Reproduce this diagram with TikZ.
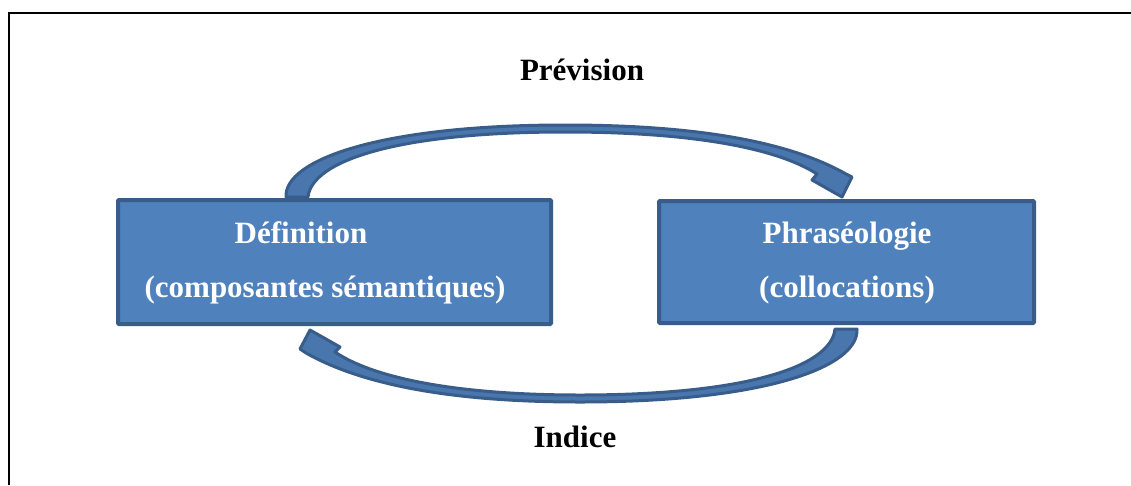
\documentclass[tikz,border=0pt]{standalone}
\usepackage{fontspec}
\setmainfont{Liberation Serif}
\definecolor{boxfill}{HTML}{4F81BD}
\definecolor{boxline}{HTML}{385D8A}
\definecolor{arrowfill}{HTML}{4A76AE}
\begin{document}
\begin{tikzpicture}[x=1pt,y=-1pt,
  box/.style={draw=boxline, fill=boxfill, line width=4pt, rounded corners=1pt, inner sep=0pt},
  boxtext/.style={text=white, font=\bfseries\fontsize{31}{37}\selectfont, anchor=base, inner sep=0pt},
  label/.style={text=black, font=\bfseries\fontsize{31}{37}\selectfont, anchor=base, inner sep=0pt},
  blockarrow/.style={draw=boxline, fill=arrowfill, line width=3pt, line join=round},
  frame/.style={draw=black, line width=2pt}]
\useasboundingbox (0,0) rectangle (1131,485);
\draw[frame] (9,485) -- (9,13) -- (1131,13);

% boxes
\node[box, minimum width=433pt, minimum height=124pt] (def) at (334.5,262) {};
\node[box, minimum width=375pt, minimum height=122pt] (phr) at (846.5,262) {};

% box texts
\node[boxtext] (t1) at (301,243) {Définition};
\node[boxtext] (t2) at (325,297) {(composantes sémantiques)};
\node[boxtext] (t3) at (847,243) {Phraséologie};
\node[boxtext] (t4) at (847,297) {(collocations)};

% labels
\node[label] (prev) at (582,80) {Prévision};
\node[label] (ind) at (575,447) {Indice};

% top curved arrow (Définition -> Phraséologie)
\draw[blockarrow] (286,197) .. controls (284,160) and (380,125) .. (565,125)
  .. controls (720,125) and (800,148) .. (846,174)
  -- (852,177) -- (842,197) -- (812,180) -- (817,174)
  .. controls (780,150) and (700,132) .. (565,132)
  .. controls (400,132) and (312,160) .. (308,197) -- cycle;

% bottom curved arrow (Phraséologie -> Définition)
\draw[blockarrow] (857,329) .. controls (859,367) and (765,402) .. (580,402)
  .. controls (432,402) and (352,379) .. (306,353)
  -- (300,349) -- (310,330) -- (340,347) -- (335,352)
  .. controls (372,377) and (452,395) .. (580,395)
  .. controls (745,395) and (831,367) .. (835,329) -- cycle;
\end{tikzpicture}
\end{document}
